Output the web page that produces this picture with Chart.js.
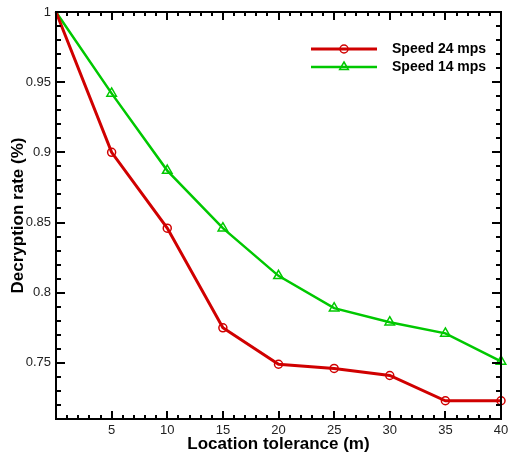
<!DOCTYPE html>
<html><head><meta charset="utf-8">
<script src="https://cdn.jsdelivr.net/npm/chart.js@4.4.0/dist/chart.umd.min.js"></script>
<style>html,body{margin:0;padding:0;background:#fff}#wrap{width:509px;height:457px;position:relative}</style>
</head><body><div id="wrap"><canvas id="c"></canvas></div>
<script>
const tolerance = [0, 5, 10, 15, 20, 25, 30, 35, 40];
const speed24 = [1.0, 0.900, 0.846, 0.775, 0.749, 0.746, 0.741, 0.723, 0.723];
const speed14 = [1.0, 0.942, 0.887, 0.846, 0.812, 0.789, 0.779, 0.771, 0.751];
const seriesLabels = ['Speed 24 mps', 'Speed 14 mps'];
const xTickLabels = ['5', '10', '15', '20', '25', '30', '35', '40'];
const yTickLabels = ['0.75', '0.8', '0.85', '0.9', '0.95', '1'];
const xTitle = 'Location tolerance (m)';
const yTitle = 'Decryption rate (%)';

const RED = 'rgb(208,0,0)';
const GREEN = 'rgb(0,200,0)';
const FONT = "'Liberation Sans', Arial, sans-serif";

function toXY(xs, ys) { return xs.map((x, i) => ({x: x, y: ys[i]})); }

const tickPlugin = {
  id: 'boxTicks',
  afterDraw(chart) {
    const ctx = chart.ctx;
    const a = chart.chartArea;
    const xs = chart.scales.x, ys = chart.scales.y;
    ctx.save();
    ctx.strokeStyle = '#000';
    ctx.lineWidth = 2;
    ctx.lineCap = 'butt';
    ctx.beginPath();
    for (let v = xs.min; v <= xs.max + 1e-9; v += 1) {
      const px = Math.round(xs.getPixelForValue(v));
      const major = Math.round(v) % 5 === 0;
      const len = major ? 8 : 4;
      ctx.moveTo(px, a.bottom); ctx.lineTo(px, a.bottom - len);
      ctx.moveTo(px, a.top); ctx.lineTo(px, a.top + len);
    }
    for (let k = Math.round(ys.min * 100); k <= Math.round(ys.max * 100); k++) {
      const py = Math.round(ys.getPixelForValue(k / 100));
      const major = k % 5 === 0;
      const len = major ? 9 : 5;
      ctx.moveTo(a.left, py); ctx.lineTo(a.left + len, py);
      ctx.moveTo(a.right, py); ctx.lineTo(a.right - len, py);
    }
    ctx.stroke();
    ctx.strokeRect(a.left, a.top, a.right - a.left, a.bottom - a.top);
    ctx.restore();
  }
};

const legendPlugin = {
  id: 'tecLegend',
  afterDatasetsDraw(chart) {
    const ctx = chart.ctx;
    ctx.save();
    chart.data.datasets.forEach((ds, i) => {
      const y = 49 + i * 18;
      const x0 = 311, x1 = 377, xm = (x0 + x1) / 2;
      ctx.strokeStyle = ds.borderColor;
      ctx.lineWidth = ds.borderWidth;
      ctx.beginPath(); ctx.moveTo(x0, y); ctx.lineTo(x1, y); ctx.stroke();
      ctx.lineWidth = 1.5;
      ctx.beginPath();
      if (ds.pointStyle === 'circle') {
        ctx.arc(xm, y, 4, 0, Math.PI * 2);
      } else {
        const r = 5;
        ctx.moveTo(xm, y - r); ctx.lineTo(xm + r * 0.87, y + r * 0.5); ctx.lineTo(xm - r * 0.87, y + r * 0.5); ctx.closePath();
      }
      ctx.stroke();
      ctx.fillStyle = '#000';
      ctx.font = 'bold 14px ' + FONT;
      ctx.textBaseline = 'middle';
      ctx.textAlign = 'left';
      ctx.fillText(ds.label, 392, y + 0.5);
    });
    ctx.restore();
  }
};

new Chart(document.getElementById('c'), {
  type: 'line',
  data: {
    datasets: [
      {
        label: seriesLabels[0], data: toXY(tolerance, speed24),
        borderColor: RED, backgroundColor: 'rgba(0,0,0,0)', borderWidth: 3,
        pointStyle: 'circle', pointRadius: c => c.dataIndex === 0 ? 0 : 4,
        pointBorderWidth: 1.5, pointBorderColor: RED, pointBackgroundColor: 'rgba(0,0,0,0)',
        tension: 0, clip: false
      },
      {
        label: seriesLabels[1], data: toXY(tolerance, speed14),
        borderColor: GREEN, backgroundColor: 'rgba(0,0,0,0)', borderWidth: 2.5,
        pointStyle: 'triangle', pointRadius: c => c.dataIndex === 0 ? 0 : 5.5,
        pointBorderWidth: 1.5, pointBorderColor: GREEN, pointBackgroundColor: 'rgba(0,0,0,0)',
        tension: 0, clip: false
      }
    ]
  },
  options: {
    responsive: true, maintainAspectRatio: false, animation: false,
    layout: {padding: 0},
    plugins: {legend: {display: false}, tooltip: {enabled: false}},
    scales: {
      x: {
        type: 'linear', position: 'bottom', min: 0, max: 40,
        afterBuildTicks: s => { s.ticks = xTickLabels.map(v => ({value: parseFloat(v)})); },
        afterFit: s => { s.height = 38; s.paddingLeft = 0; s.paddingRight = 0; },
        ticks: {color: '#222', font: {family: FONT, size: 13}, padding: 4, maxRotation: 0, autoSkip: false,
                callback: v => String(v)},
        grid: {display: false, drawTicks: false},
        border: {display: false},
        title: {display: true, text: xTitle, color: '#000', font: {family: FONT, size: 17, weight: 'bold', lineHeight: 1.2}, padding: {top: 0, bottom: 2}}
      },
      x2: {
        type: 'linear', position: 'top', min: 0, max: 40,
        afterFit: s => { s.height = 12; s.paddingLeft = 0; s.paddingRight = 0; },
        ticks: {display: false}, grid: {display: false, drawTicks: false}, border: {display: false}
      },
      y: {
        type: 'linear', position: 'left', min: 0.71, max: 1,
        afterBuildTicks: s => { s.ticks = yTickLabels.map(v => ({value: parseFloat(v)})); },
        afterFit: s => { s.width = 56; s.paddingTop = 0; s.paddingBottom = 0; },
        ticks: {color: '#222', font: {family: FONT, size: 13}, padding: 5, autoSkip: false,
                callback: v => String(parseFloat(v.toFixed(2)))},
        grid: {display: false, drawTicks: false},
        border: {display: false},
        title: {display: true, text: yTitle, color: '#000', font: {family: FONT, size: 17, weight: 'bold', lineHeight: 1.2}, padding: {top: 8, bottom: 0}}
      },
      y2: {
        type: 'linear', position: 'right', min: 0.71, max: 1,
        afterFit: s => { s.width = 8; s.paddingTop = 0; s.paddingBottom = 0; },
        ticks: {display: false}, grid: {display: false, drawTicks: false}, border: {display: false}
      }
    }
  },
  plugins: [tickPlugin, legendPlugin]
});
</script>
</body></html>
